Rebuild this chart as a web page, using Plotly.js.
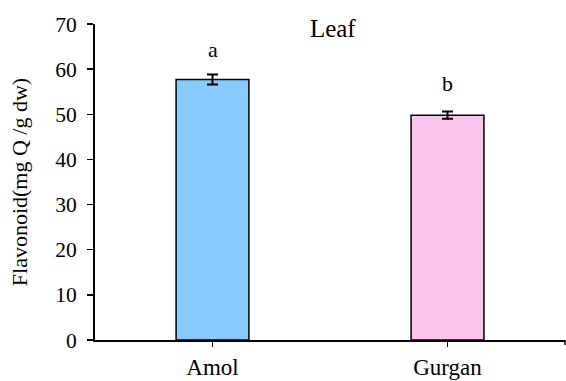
<!DOCTYPE html>
<html><head><meta charset="utf-8">
<script src="https://cdn.plot.ly/plotly-3.0.1.min.js"></script>
<style>html,body{margin:0;padding:0;background:#fff;}#chart{width:566px;height:381px;}</style>
</head><body><div id="chart"></div>
<script>
const categories = ["Amol", "Gurgan"];
const values = [57.7, 49.8];
const errors = [1.1, 0.8];
const letters = ["a", "b"];
const letterY = [64.3, 56.9];
const barColors = ["#88CBFF", "#F9C5EC"];
const yTicks = [0, 10, 20, 30, 40, 50, 60, 70];

const fam = "Liberation Serif, Times New Roman, serif";

const trace = {
  type: "bar", x: categories, y: values, width: 0.31,
  marker: {color: barColors, line: {color: "#000", width: 1.5}},
  error_y: {type: "data", array: errors, visible: true, color: "#000", thickness: 2, width: 5.5},
  hoverinfo: "none"
};

const layout = {
  width: 566, height: 381,
  margin: {l: 95, r: 1, t: 24, b: 41},
  paper_bgcolor: "#fff", plot_bgcolor: "#fff",
  font: {family: fam, size: 21, color: "#000"},
  showlegend: false,
  title: {text: "Leaf", font: {family: fam, size: 25, color: "#000"},
          x: 0.588, xanchor: "center", y: 1 - 28/381, yanchor: "middle", yref: "container"},
  xaxis: {type: "category", range: [-0.5, 1.5], showgrid: false, zeroline: false,
          showline: true, linecolor: "#000", linewidth: 2,
          ticks: "outside", ticklen: 5, tickwidth: 1.5, tickcolor: "#000",
          tickfont: {family: fam, size: 23, color: "#000"}},
  yaxis: {range: [0, 70], tickvals: yTicks, showgrid: false, zeroline: false,
          showline: true, linecolor: "#000", linewidth: 2,
          ticks: "outside", ticklen: 6, tickwidth: 1.5, tickcolor: "#000",
          ticklabelstandoff: 6,
          tickfont: {family: fam, size: 21.5, color: "#000"},
          title: {text: "Flavonoid(mg Q /g dw)", font: {family: fam, size: 22, color: "#000"}, standoff: 22}},
  annotations: categories.map((c, i) => ({x: c, y: letterY[i], text: letters[i], showarrow: false,
          font: {family: fam, size: 22, color: "#000"}, xref: "x", yref: "y"})),
  shapes: [{type: "line", xref: "paper", yref: "paper", x0: 1, x1: 1, y0: 0, y1: -5/316,
            line: {color: "#000", width: 1.5}}]
};

Plotly.newPlot("chart", [trace], layout, {staticPlot: true, displayModeBar: false});
</script></body></html>
